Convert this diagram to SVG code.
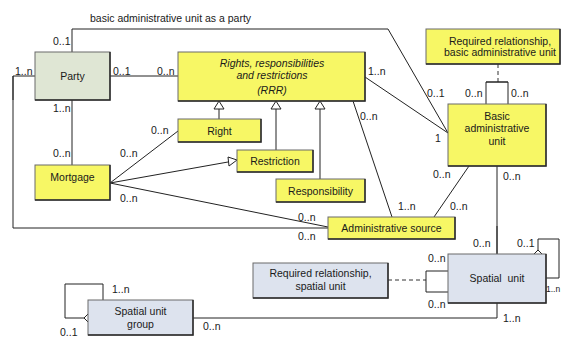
<svg xmlns="http://www.w3.org/2000/svg" width="561" height="338" viewBox="0 0 561 338">
<style>
text{font-family:"Liberation Sans",Arial,sans-serif;font-size:10.5px;fill:#1a1a1a}
.c{text-anchor:middle}
.i{font-style:italic}
.box{stroke:#6a6a6a;stroke-width:1}
.sh{fill:none;stroke:#2a2a2a;stroke-width:1.5}
.y{fill:#f7f765}
.b{fill:#dde3ee}
.g{fill:#dfe6d4}
.ln{fill:none;stroke:#222;stroke-width:1}
.d{fill:none;stroke:#333;stroke-width:1;stroke-dasharray:4 3}
.tri{fill:#fff;stroke:#222;stroke-width:1}
</style>
<rect width="561" height="338" fill="#fff"/>
<g id="connectors">
<polyline class="ln" points="72,52 72,29 388,29 448,133"/>
<polyline class="ln" points="365,77 448,133"/>
<line class="ln" x1="110" y1="76" x2="178" y2="76"/>
<polyline class="ln" points="35,76 13,76 13,228 328,228"/>
<line class="ln" x1="13" y1="76" x2="13" y2="100" stroke-width="2"/>
<line class="ln" x1="72" y1="100" x2="72" y2="165"/>
<line class="ln" x1="110" y1="183" x2="178" y2="131"/>
<line class="ln" x1="110" y1="183" x2="228" y2="162"/>
<polygon class="tri" points="237,160 228,157 229,166"/>
<line class="ln" x1="110" y1="183" x2="328" y2="227"/>
<line class="ln" x1="219" y1="119" x2="219" y2="109"/>
<polygon class="tri" points="219,101 214,109 224,109"/>
<line class="ln" x1="276" y1="150" x2="276" y2="109"/>
<polygon class="tri" points="276,101 271,109 281,109"/>
<line class="ln" x1="320" y1="179" x2="320" y2="109"/>
<polygon class="tri" points="320,101 315,109 325,109"/>
<line class="ln" x1="353" y1="101" x2="392" y2="217"/>
<line class="ln" x1="434" y1="217" x2="469" y2="166"/>
<line class="d" x1="498" y1="64" x2="498" y2="82"/>
<polyline class="ln" points="486,104 486,82 508,82 508,104"/>
<line class="ln" x1="486" y1="82" x2="508" y2="82" stroke-width="2"/>
<line class="ln" x1="497" y1="166" x2="497" y2="254"/>
<line class="ln" x1="497" y1="226" x2="497" y2="254" stroke-width="2"/>
<polyline class="ln" points="538,250 538,239 559,239 559,278 546,278"/>
<polygon class="tri" points="538,250 542,254 538,258 534,254"/>
<line class="d" x1="388" y1="280" x2="426" y2="280"/>
<polyline class="ln" points="448,271 426,271 426,292 448,292"/>
<polyline class="ln" points="497,303 497,318 193,318"/>
<polyline class="ln" points="84,318 65,318 65,284 103,284 103,300"/>
<polygon class="tri" points="84,318 88,314 92,318 88,322"/>
</g>
<g id="party"><rect class="box g" x="35" y="52" width="75" height="48"/><path class="sh" d="M35,100H110V52"/><text class="c" x="72.5" y="80">Party</text></g>
<g id="rrr"><rect class="box y" x="178" y="52" width="187" height="49"/><path class="sh" d="M178,101H365V52"/><text class="c i" x="272" y="67">Rights, responsibilities</text><text class="c i" x="272" y="79">and restrictions</text><text class="c i" x="272" y="94">(RRR)</text></g>
<g id="right"><rect class="box y" x="178" y="119" width="83" height="23"/><path class="sh" d="M178,142H261V119"/><text class="c" x="219.5" y="135">Right</text></g>
<g id="restriction"><rect class="box y" x="237" y="150" width="76" height="22"/><path class="sh" d="M237,172H313V150"/><text class="c" x="275" y="165">Restriction</text></g>
<g id="responsibility"><rect class="box y" x="276" y="179" width="89" height="23"/><path class="sh" d="M276,202H365V179"/><text class="c" x="320.5" y="195">Responsibility</text></g>
<g id="mortgage"><rect class="box y" x="35" y="165" width="75" height="35"/><path class="sh" d="M35,200H110V165"/><text class="c" x="72.5" y="181">Mortgage</text></g>
<g id="adminsource"><rect class="box y" x="328" y="217" width="127" height="22"/><path class="sh" d="M328,239H455V217"/><text class="c" x="391.5" y="232">Administrative source</text></g>
<g id="bau"><rect class="box y" x="448" y="104" width="98" height="62"/><path class="sh" d="M448,166H546V104"/><text class="c" x="497" y="120">Basic</text><text class="c" x="497" y="132">administrative</text><text class="c" x="497" y="145">unit</text></g>
<g id="reqbau"><rect class="box y" x="426" y="29" width="134" height="35"/><path class="sh" d="M426,64H560V29"/><text class="c" x="500" y="45">Required relationship,</text><text class="c" x="500" y="56">basic administrative unit</text></g>
<g id="spatialunit"><rect class="box b" x="448" y="254" width="98" height="49"/><path class="sh" d="M448,303H546V254"/><text class="c" x="497" y="282" xml:space="preserve">Spatial  unit</text></g>
<g id="reqsu"><rect class="box b" x="253" y="263" width="135" height="35"/><path class="sh" d="M253,298H388V263"/><text class="c" x="320.5" y="277">Required relationship,</text><text class="c" x="320.5" y="290">spatial unit</text></g>
<g id="sug"><rect class="box b" x="88" y="300" width="105" height="35"/><path class="sh" d="M88,335H193V300"/><text class="c" x="140.5" y="315">Spatial unit</text><text class="c" x="140.5" y="328">group</text></g>
<g id="labels">
<text x="90" y="22">basic administrative unit as a party</text>
<text x="53" y="45">0..1</text>
<text x="15" y="75">1..n</text>
<text x="113" y="75">0..1</text>
<text x="157" y="75">0..n</text>
<text x="53" y="112">1..n</text>
<text x="53" y="157">0..n</text>
<text x="368" y="75">1..n</text>
<text x="427" y="97">0..1</text>
<text x="465" y="97">0..n</text>
<text x="511" y="97">0..n</text>
<text x="435" y="142">1</text>
<text x="360" y="120">0..n</text>
<text x="151" y="134">0..n</text>
<text x="120" y="157">0..n</text>
<text x="120" y="202">0..n</text>
<text x="298" y="221">0..n</text>
<text x="298" y="240">0..n</text>
<text x="398" y="210">1..n</text>
<text x="450" y="210">0..n</text>
<text x="433" y="178">0..n</text>
<text x="503" y="180">0..n</text>
<text x="473" y="247">0..n</text>
<text x="517" y="247">0..1</text>
<text x="428" y="262">0..n</text>
<text x="428" y="308">0..n</text>
<text x="546" y="292" style="font-size:8.5px">1..n</text>
<text x="503" y="322">1..n</text>
<text x="203" y="330">0..n</text>
<text x="112" y="293">1..n</text>
<text x="60" y="336">0..1</text>
</g>
</svg>
